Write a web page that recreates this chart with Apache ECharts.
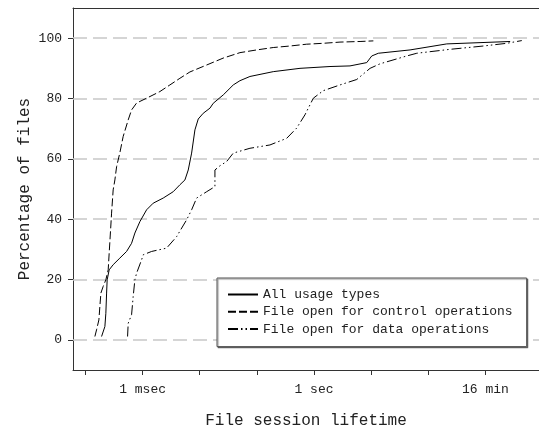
<!DOCTYPE html>
<html>
<head>
<meta charset="utf-8">
<script src="https://cdn.jsdelivr.net/npm/echarts@6/dist/echarts.min.js"></script>
<style>
  html, body { margin: 0; padding: 0; background: #fff; }
  #chart { width: 539px; height: 429px; }
</style>
</head>
<body>
<div id="chart"></div>
<script>
// x values are log10 of the lifetime in seconds, y values are cumulative %
var allLogT = [-3.718, -3.660, -3.643, -3.630, -3.620, -3.585, -3.515, -3.398, -3.280, -3.193,
  -3.135, -3.047, -2.930, -2.814, -2.639, -2.464, -2.347, -2.259, -2.201, -2.142, -2.084,
  -2.026, -1.939, -1.821, -1.764, -1.588, -1.471, -1.413, -1.296, -1.121, -0.713, -0.245,
  0.280, 0.630, 0.923, 1.011, 1.126, 1.681, 2.324, 3.433];
var allPct = [1.1, 4.4, 8.8, 15.5, 19.9, 23.2, 24.9, 27.1, 29.3, 32.0,
  35.4, 39.2, 43.1, 45.3, 47.0, 49.1, 51.4, 53.0, 56.3, 61.9, 69.6,
  73.2, 75.1, 76.8, 78.4, 81.2, 83.4, 84.5, 85.9, 87.3, 88.9, 90.0,
  90.6, 90.8, 91.9, 94.1, 95.0, 96.1, 98.1, 98.9];

var ctrlLogT = [-3.835, -3.806, -3.765, -3.748, -3.730, -3.690, -3.643, -3.602, -3.585, -3.560,
  -3.543, -3.515, -3.485, -3.455, -3.398, -3.340, -3.252, -3.193, -3.105, -2.930, -2.697,
  -2.522, -2.347, -2.172, -1.879, -1.588, -1.296, -1.004, -0.713, -0.420, -0.128, 0.163,
  0.455, 0.806, 1.039];
var ctrlPct = [1.1, 3.3, 6.6, 11.0, 15.5, 17.7, 19.9, 23.2, 28.7, 36.5,
  42.0, 49.7, 53.0, 57.4, 62.0, 67.4, 72.9, 76.2, 78.5, 80.1, 82.3,
  84.5, 86.7, 88.8, 91.1, 93.4, 95.2, 96.1, 96.9, 97.4, 98.0, 98.3,
  98.7, 98.9, 99.1];

var dataLogT = [-3.263, -3.252, -3.193, -3.165, -3.135, -3.105, -3.018, -2.989, -2.842, -2.580,
  -2.405, -2.229, -2.142, -2.054, -1.879, -1.734, -1.734, -1.646, -1.529, -1.413, -1.121,
  -0.771, -0.478, -0.303, -0.158, -0.012, 0.163, 0.455, 0.748, 0.981, 1.156, 1.623,
  1.799, 2.382, 2.965, 3.375, 3.637];
var dataPct = [1.1, 5.5, 8.3, 14.3, 19.9, 22.1, 26.5, 28.2, 29.3, 30.4,
  34.2, 39.8, 43.1, 47.0, 49.1, 50.8, 56.3, 57.7, 59.1, 61.9, 63.5,
  64.6, 66.8, 70.2, 74.6, 80.1, 82.6, 84.5, 86.3, 90.0, 91.5, 94.1,
  95.0, 96.3, 97.4, 98.3, 99.2];

var seriesNames = ['All usage types', 'File open for control operations', 'File open for data operations'];
var xTickValues = [-4, -3, -2, -1, 0, 1, 2, 3];
var xLabelValues = [-3, 0, 3];
var xLabelText = { '-3': '1 msec', '0': '1 sec', '3': '16 min' };
var yTickValues = [0, 20, 40, 60, 80, 100];

var FONT = '"Liberation Mono", "Courier New", monospace';

function pairs(xs, ys) {
  var out = [];
  for (var i = 0; i < xs.length; i++) out.push([xs[i], ys[i]]);
  return out;
}

var myChart = echarts.init(document.getElementById('chart'));
var option = {
  animation: false,
  backgroundColor: '#fff',
  textStyle: { fontFamily: FONT },
  grid: { left: 73, right: 0, top: 8, bottom: 59, outerBoundsMode: 'none', containLabel: false },
  legend: {
    orient: 'vertical',
    left: 217,
    top: 278,
    padding: [10, 14, 11, 10],
    itemWidth: 30,
    itemHeight: 14,
    itemGap: 4.3,
    backgroundColor: '#fff',
    borderColor: '#555',
    borderWidth: 1,
    borderRadius: 0,
    shadowColor: 'rgba(0,0,0,0.45)',
    shadowBlur: 1,
    shadowOffsetX: 1,
    shadowOffsetY: 1,
    itemStyle: { opacity: 0 },
    textStyle: { fontFamily: FONT, fontSize: 13, color: '#222' },
    data: seriesNames
  },
  xAxis: [{
    type: 'value',
    min: -4.218,
    max: 3.938,
    name: 'File session lifetime',
    nameLocation: 'middle',
    nameGap: 43,
    nameTextStyle: { fontFamily: FONT, fontSize: 16, color: '#222' },
    axisLine: { onZero: false, lineStyle: { color: '#333', width: 1 } },
    axisTick: { customValues: xTickValues, length: 5, lineStyle: { color: '#333' } },
    axisLabel: {
      customValues: xLabelValues,
      margin: 13,
      fontFamily: FONT, fontSize: 13, color: '#222',
      formatter: function (v) { return xLabelText[String(Math.round(v))] || ''; }
    },
    splitLine: { show: false }
  }, {
    type: 'value',
    position: 'top',
    min: -4.218,
    max: 3.938,
    axisLine: { show: true, onZero: false, lineStyle: { color: '#333', width: 1 } },
    axisTick: { show: false },
    axisLabel: { show: false },
    splitLine: { show: false }
  }],
  yAxis: {
    type: 'value',
    min: -10,
    max: 110,
    interval: 10,
    name: 'Percentage of files',
    nameLocation: 'middle',
    nameGap: 40,
    nameMoveOverlap: false,
    nameTextStyle: { fontFamily: FONT, fontSize: 16, color: '#222' },
    axisLine: { show: true, onZero: false, lineStyle: { color: '#333', width: 1 } },
    axisTick: { customValues: yTickValues, length: 5, lineStyle: { color: '#333' } },
    axisLabel: {
      customValues: yTickValues,
      margin: 11,
      fontFamily: FONT, fontSize: 13, color: '#222'
    },
    splitLine: { show: false }
  },
  series: [{
    name: seriesNames[0],
    type: 'line',
    symbol: 'none',
    data: pairs(allLogT, allPct),
    lineStyle: { color: '#000', width: 1, type: 'solid' },
    itemStyle: { color: '#000' },
    z: 3,
    markLine: {
      silent: true,
      symbol: 'none',
      label: { show: false },
      lineStyle: { color: '#c8c8c8', width: 1.5, type: [14, 6] },
      data: yTickValues.map(function (v) { return { yAxis: v }; }),
      z: 1
    }
  }, {
    name: seriesNames[1],
    type: 'line',
    symbol: 'none',
    data: pairs(ctrlLogT, ctrlPct),
    lineStyle: { color: '#000', width: 1, type: [8, 3] },
    itemStyle: { color: '#000' },
    z: 3
  }, {
    name: seriesNames[2],
    type: 'line',
    symbol: 'none',
    data: pairs(dataLogT, dataPct),
    lineStyle: { color: '#000', width: 1, type: [10, 3, 1.5, 3, 1.5, 3] },
    itemStyle: { color: '#000' },
    z: 3
  }]
};
myChart.setOption(option);
</script>
</body>
</html>
